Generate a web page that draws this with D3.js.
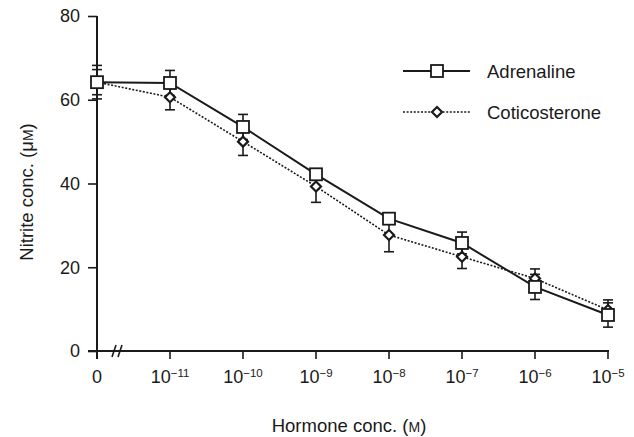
<!DOCTYPE html>
<html>
<head>
<meta charset="utf-8">
<script src="https://cdn.jsdelivr.net/npm/d3@7"></script>
<style>
  body { margin: 0; background: #fff; }
  text { font-family: "Liberation Sans", Arial, sans-serif; fill: #1a1a1a; }
</style>
</head>
<body>
<div id="chart"></div>
<script>
// podaci
const doses = ["0", "-11", "-10", "-9", "-8", "-7", "-6", "-5"];
const adrenaline = [64.2, 64, 53.5, 42.2, 31.6, 25.8, 15.3, 8.6];
const adrenalineErr = [4, 3, 3, 1, 1, 2.6, 3, 2.9];
const cortico = [64.2, 60.6, 50, 39.3, 27.7, 22.5, 17.3, 9.8];
const corticoErr = [3, 3, 3.3, 3.8, 4, 2.8, 2.3, 2.4];
const yTicks = [0, 20, 40, 60, 80];

const dim = { width: 634, height: 437, left: 97, right: 608, top: 16, bottom: 351 };

const svg = d3.select("#chart").append("svg")
  .attr("width", dim.width)
  .attr("height", dim.height);

const x = d3.scaleLinear().domain([0, doses.length - 1]).range([dim.left, dim.right]);
const y = d3.scaleLinear().domain([0, 80]).range([dim.bottom, dim.top]);

const ink = "#1a1a1a";

// y os
const yAxis = svg.append("g")
  .attr("transform", `translate(${dim.left},0)`)
  .call(d3.axisLeft(y).tickValues(yTicks).tickSize(9).tickPadding(8));
yAxis.select(".domain").remove();
yAxis.selectAll(".tick line").attr("stroke", ink).attr("stroke-width", 1.6);
yAxis.selectAll(".tick text").style("font-size", "18px").attr("fill", ink);
svg.append("line")
  .attr("x1", dim.left).attr("x2", dim.left)
  .attr("y1", y(80)).attr("y2", dim.bottom + 8)
  .attr("stroke", ink).attr("stroke-width", 2);

// x os
svg.append("line")
  .attr("x1", dim.left - 9).attr("x2", dim.right + 1)
  .attr("y1", dim.bottom).attr("y2", dim.bottom)
  .attr("stroke", ink).attr("stroke-width", 2);
const xt = svg.append("g").selectAll("g").data(doses).join("g")
  .attr("transform", (d, i) => `translate(${x(i)},${dim.bottom})`);
xt.append("line").attr("y2", 8).attr("stroke", ink).attr("stroke-width", 1.6);
const lbl = xt.append("text")
  .attr("y", 32)
  .attr("text-anchor", "middle")
  .style("font-size", "18px");
lbl.filter(d => d === "0").text("0");
lbl.filter(d => d !== "0").each(function(d) {
  const t = d3.select(this);
  t.append("tspan").text("10");
  t.append("tspan").attr("dy", -6).style("font-size", "11.5px").text("\u2212" + d.slice(1));
});

// prekid osi
[0, 6].forEach(o => {
  svg.append("line")
    .attr("x1", 112 + o).attr("y1", dim.bottom + 6)
    .attr("x2", 116 + o).attr("y2", dim.bottom - 6)
    .attr("stroke", ink).attr("stroke-width", 1.6);
});

// oznake osi
const xl = svg.append("text")
  .attr("x", 349).attr("y", 432)
  .attr("text-anchor", "middle")
  .style("font-size", "18.5px");
xl.append("tspan").text("Hormone conc. (");
xl.append("tspan").style("font-size", "14px").text("M");
xl.append("tspan").text(")");

const yl = svg.append("text")
  .attr("transform", `translate(33,192) rotate(-90)`)
  .attr("text-anchor", "middle")
  .style("font-size", "18.5px");
yl.append("tspan").text("Nitrite conc. (\u03BC");
yl.append("tspan").style("font-size", "14px").text("M");
yl.append("tspan").text(")");

// serije
const series = [
  { name: "Adrenaline", values: adrenaline, err: adrenalineErr, dash: null, width: 2, shape: "square" },
  { name: "Coticosterone", values: cortico, err: corticoErr, dash: "2,1.6", width: 1.6, shape: "diamond" }
];

const line = d3.line().x((d, i) => x(i)).y(d => y(d));

// linije (kortikosteron prvi, adrenalin iznad)
series.slice().reverse().forEach(s => {
  svg.append("path")
    .datum(s.values)
    .attr("d", line)
    .attr("fill", "none")
    .attr("stroke", ink)
    .attr("stroke-width", s.width)
    .attr("stroke-dasharray", s.dash);
});

// error bars
series.forEach(s => {
  const g = svg.append("g").attr("stroke", ink).attr("stroke-width", 1.6);
  s.values.forEach((v, i) => {
    const cx = x(i), lo = y(v - s.err[i]), hi = y(v + s.err[i]);
    g.append("line").attr("x1", cx).attr("x2", cx).attr("y1", lo).attr("y2", hi);
    g.append("line").attr("x1", cx - 5).attr("x2", cx + 5).attr("y1", lo).attr("y2", lo);
    g.append("line").attr("x1", cx - 5).attr("x2", cx + 5).attr("y1", hi).attr("y2", hi);
  });
});

function marker(g, shape, cx, cy) {
  if (shape === "square") {
    g.append("rect")
      .attr("x", cx - 6).attr("y", cy - 6).attr("width", 12).attr("height", 12)
      .attr("fill", "#fff").attr("stroke", ink).attr("stroke-width", 1.8);
  } else {
    g.append("path")
      .attr("d", `M${cx},${cy - 5}L${cx + 5},${cy}L${cx},${cy + 5}L${cx - 5},${cy}Z`)
      .attr("fill", "#fff").attr("stroke", ink).attr("stroke-width", 2.2);
  }
}

// markeri
series.slice().reverse().forEach(s => {
  const g = svg.append("g");
  s.values.forEach((v, i) => marker(g, s.shape, x(i), y(v)));
});

// legenda
series.forEach((s, k) => {
  const ly = 71 + k * 41;
  svg.append("line")
    .attr("x1", 403).attr("x2", 470).attr("y1", ly).attr("y2", ly)
    .attr("stroke", ink).attr("stroke-width", s.width)
    .attr("stroke-dasharray", s.dash);
  marker(svg, s.shape, 437, ly);
  svg.append("text")
    .attr("x", 487).attr("y", ly + 6.5)
    .style("font-size", "18.5px")
    .text(s.name);
});
</script>
</body>
</html>
